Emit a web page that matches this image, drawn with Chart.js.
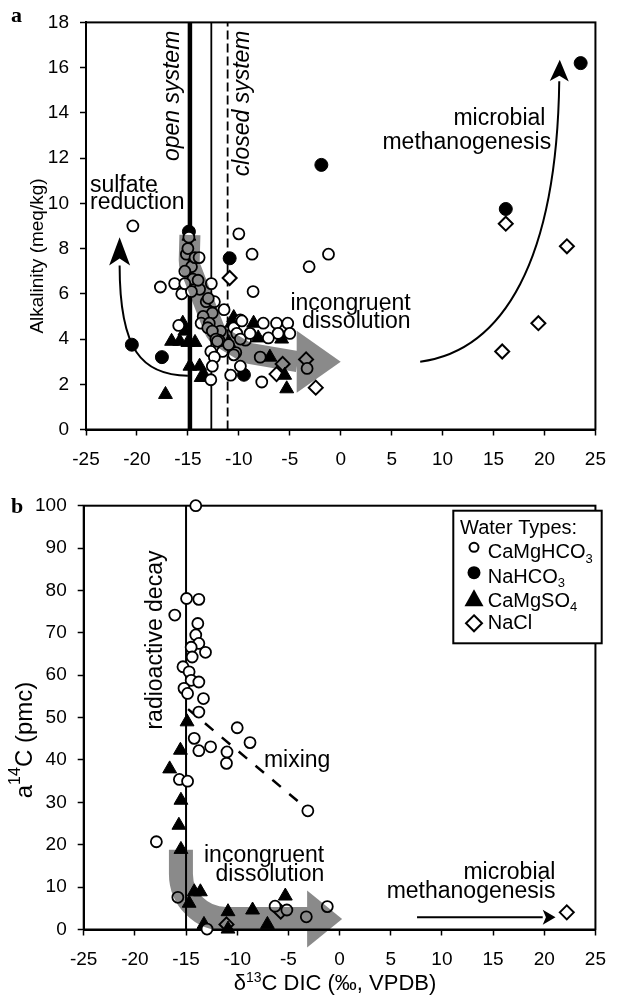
<!DOCTYPE html>
<html lang="en">
<head>
<meta charset="UTF-8">
<title>Alkalinity and a14C vs d13C DIC</title>
<script src="https://cdn.jsdelivr.net/npm/chart.js"></script>
<style>
    body { margin: 0; background: #fff; }
    #wrap { position: relative; width: 619px; height: 1001px; }
    canvas { position: absolute; left: 0; }
    #chartA { top: 0; }
    #chartB { top: 478px; }
</style>
</head>
<body>
<div id="wrap">
    <canvas id="chartA" width="619" height="478"></canvas>
    <canvas id="chartB" width="619" height="523"></canvas>
</div>
<script>
    // tick values
    var xTicks = [-25, -20, -15, -10, -5, 0, 5, 10, 15, 20, 25];
    var alkTicks = [0, 2, 4, 6, 8, 10, 12, 14, 16, 18];
    var pmcTicks = [0, 10, 20, 30, 40, 50, 60, 70, 80, 90, 100];

    // panel a: [d13C DIC, alkalinity meq/kg]
    var alkCaMgHCO3 = [
        [-20.4, 9.0], [-10.0, 8.65], [-8.7, 7.75], [-3.1, 7.2], [-1.2, 7.75], [-8.6, 6.1], [-17.7, 6.3], [-16.3, 6.45],
        [-15.6, 6.0], [-15.9, 4.6], [-15.15, 7.75], [-15.0, 8.0], [-14.65, 7.2], [-14.5, 6.65], [-13.85, 6.2],
        [-13.2, 5.65], [-12.6, 5.15], [-11.8, 4.35], [-11.95, 3.95], [-9.35, 3.95], [-7.9, 3.2], [-14.9, 8.5],
        [-14.3, 7.6], [-13.9, 7.6], [-15.3, 7.0], [-15.3, 6.45], [-14.65, 6.1], [-12.7, 6.45], [-12.4, 5.65],
        [-11.45, 5.3], [-13.5, 5.0], [-13.7, 4.7], [-12.9, 4.7], [-13.05, 4.5], [-12.6, 4.35], [-12.25, 4.0],
        [-12.1, 3.9], [-11.6, 3.45], [-12.75, 3.45], [-12.4, 3.2], [-12.6, 2.8], [-12.75, 2.2], [-10.8, 2.4],
        [-10.3, 3.4], [-10.5, 3.3], [-11.0, 3.75], [-10.5, 4.5], [-9.85, 4.85], [-9.7, 4.8], [-10.2, 4.25],
        [-9.85, 4.0], [-7.6, 4.7], [-6.3, 4.7], [-5.2, 4.7], [-5.0, 4.25], [-6.15, 4.25], [-7.1, 4.05],
        [-8.9, 4.25], [-7.75, 2.1], [-9.85, 2.8], [-3.3, 2.7], [-13.0, 5.8], [-14.0, 6.6]
    ];
    var alkNaHCO3 = [
        [23.55, 16.2], [-1.9, 11.7], [16.2, 9.75], [-10.9, 7.57], [-20.5, 3.75], [-17.55, 3.2], [-14.9, 8.75], [-9.5, 2.42]
    ];
    var alkCaMgSO4 = [
        [-17.2, 1.55], [-14.9, 8.55], [-15.5, 4.7], [-15.3, 4.35], [-16.6, 3.9], [-15.8, 3.9], [-15.0, 3.85],
        [-14.3, 3.85], [-14.8, 2.8], [-13.85, 2.8], [-13.4, 2.4], [-13.7, 2.3], [-10.5, 4.95], [-8.55, 4.7],
        [-8.1, 4.05], [-5.8, 4.0], [-6.95, 3.2], [-5.5, 2.4], [-5.3, 1.8], [-11.0, 3.85], [-10.7, 4.7]
    ];
    var alkNaCl = [
        [-10.9, 6.7], [-5.7, 2.9], [-6.3, 2.45], [-3.4, 3.1], [-2.45, 1.85], [16.2, 9.1], [22.2, 8.1], [19.4, 4.7], [15.85, 3.45]
    ];
    // carbonate system lines (d13C)
    var openSystemX = -14.8;
    var midSystemX = -12.7;
    var closedSystemX = -11.1;

    // panel b: [d13C DIC, a14C pmc]
    var pmcCaMgHCO3 = [
        [-14.05, 100], [-14.95, 78.1], [-13.75, 77.9], [-16.1, 74.2], [-13.85, 72.2], [-14.05, 69.5], [-13.75, 67.5],
        [-14.5, 66.6], [-13.1, 65.4], [-14.4, 64.3], [-15.3, 62.0], [-14.7, 60.8], [-14.5, 58.8], [-13.75, 58.4],
        [-15.2, 56.9], [-14.85, 55.7], [-13.3, 54.5], [-13.75, 51.3], [-10.0, 47.6], [-8.75, 44.1], [-14.2, 45.1],
        [-13.75, 42.2], [-12.6, 43.1], [-11.0, 41.9], [-11.05, 39.2], [-15.65, 35.4], [-14.85, 35.0], [-3.1, 28.0],
        [-17.9, 20.7], [-15.8, 7.6], [-12.95, 0.1], [-6.3, 5.5], [-5.15, 4.6], [-3.25, 3.0], [-1.2, 5.4]
    ];
    var pmcNaHCO3 = [];
    var pmcCaMgSO4 = [
        [-14.9, 49.0], [-15.55, 42.3], [-16.6, 37.9], [-15.5, 30.5], [-15.7, 24.6], [-15.5, 18.9], [-14.2, 8.9],
        [-13.6, 8.9], [-14.7, 6.2], [-13.25, 1.2], [-10.9, 4.2], [-10.9, 0.1], [-8.5, 4.6], [-7.05, 1.2], [-5.3, 7.9]
    ];
    var pmcNaCl = [[-11.05, 1.2], [-5.75, 4.2], [22.2, 4.05]];
    var decayX = -15;
    var mixingLine = [[-14.8, 52], [-3.2, 28.5]];

    var legendTitle = 'Water Types:';
    var legendLabels = ['CaMgHCO_3', 'NaHCO_3', 'CaMgSO_4', 'NaCl'];

    var FONT = '"Liberation Sans", Arial, sans-serif';
    Chart.defaults.font.family = FONT;
    Chart.defaults.color = '#000';

    function toPx(chart, p) {
        return [chart.scales.x.getPixelForValue(p[0]), chart.scales.y.getPixelForValue(p[1])];
    }

    function pointsOf(arr) {
        return arr.map(function (p) { return { x: p[0], y: p[1] }; });
    }

    function markers(label, arr, style, fill, radius, bw) {
        return {
            label: label, data: pointsOf(arr), pointStyle: style, pointRadius: radius,
            pointBackgroundColor: fill, pointBorderColor: '#000', pointBorderWidth: bw,
            showLine: false, clip: false, order: 1
        };
    }

    function refLine(arr, width, dash) {
        return {
            label: '', data: pointsOf(arr), showLine: true, borderColor: '#000', borderWidth: width,
            borderDash: dash || [], pointRadius: 0, fill: false, clip: false, order: 5
        };
    }

    function axis(min, max, ticks, size, pad, fit) {
        return {
            type: 'linear', min: min, max: max,
            afterBuildTicks: function (s) { s.ticks = ticks.map(function (v) { return { value: v }; }); },
            afterFit: fit,
            grid: { display: true, drawOnChartArea: false, drawTicks: true, tickLength: 6, tickWidth: 1.5, tickColor: '#000', color: '#000' },
            border: { display: true, color: '#000', width: 2 },
            ticks: { font: { size: size }, color: '#000', padding: pad, maxRotation: 0, autoSkip: false }
        };
    }

    // text with ^superscript and _subscript digit runs
    function richParts(text) {
        var parts = [], re = /([\^_])(\d+)|([^\^_]+)/g, m;
        while ((m = re.exec(text))) {
            if (m[3]) parts.push({ t: m[3], k: 0 });
            else parts.push({ t: m[2], k: m[1] === '^' ? 1 : -1 });
        }
        return parts;
    }

    function richWidth(ctx, parts, size, style) {
        var w = 0;
        parts.forEach(function (p) {
            ctx.font = (style || '') + ' ' + (p.k ? Math.round(size * 0.65) : size) + 'px ' + FONT;
            w += ctx.measureText(p.t).width;
        });
        return w;
    }

    function drawRich(ctx, text, x, y, size, align, style) {
        var parts = richParts(text);
        var w = richWidth(ctx, parts, size, style);
        if (align === 'center') x -= w / 2;
        else if (align === 'right') x -= w;
        ctx.textAlign = 'left';
        parts.forEach(function (p) {
            var s = p.k ? Math.round(size * 0.65) : size;
            ctx.font = (style || '') + ' ' + s + 'px ' + FONT;
            var dy = p.k === 1 ? -size * 0.38 : (p.k === -1 ? size * 0.22 : 0);
            ctx.fillText(p.t, x, y + dy);
            x += ctx.measureText(p.t).width;
        });
    }

    function roundedPath(ctx, pts, r) {
        ctx.moveTo(pts[0][0], pts[0][1]);
        for (var i = 1; i < pts.length - 1; i++) {
            ctx.arcTo(pts[i][0], pts[i][1], pts[i + 1][0], pts[i + 1][1], r);
        }
        ctx.lineTo(pts[pts.length - 1][0], pts[pts.length - 1][1]);
    }

    // wide grey process arrow, multiplied over the markers
    function drawBand(chart, b) {
        var pts = b.path.map(function (p) { return toPx(chart, p); });
        var tip = toPx(chart, b.tip);
        pts.push([tip[0] - b.headLen + 1, tip[1]]);
        var off = document.createElement('canvas');
        off.width = chart.width;
        off.height = chart.height;
        var o = off.getContext('2d');
        o.strokeStyle = o.fillStyle = b.color;
        o.lineWidth = b.width;
        o.lineJoin = 'round';
        o.beginPath();
        roundedPath(o, pts, b.radius);
        o.stroke();
        o.beginPath();
        o.moveTo(tip[0], tip[1]);
        o.lineTo(tip[0] - b.headLen, tip[1] - b.headWidth / 2);
        o.lineTo(tip[0] - b.headLen, tip[1] + b.headWidth / 2);
        o.closePath();
        o.fill();
        var ctx = chart.ctx;
        ctx.save();
        ctx.globalCompositeOperation = 'multiply';
        ctx.drawImage(off, 0, 0);
        ctx.restore();
    }

    // thin black process arrow
    function drawCurve(chart, c) {
        var ctx = chart.ctx;
        var p0 = toPx(chart, c.from), p3 = toPx(chart, c.to), t = toPx(chart, c.tip);
        ctx.save();
        ctx.strokeStyle = ctx.fillStyle = '#000';
        ctx.lineWidth = c.width;
        ctx.beginPath();
        ctx.moveTo(p0[0], p0[1]);
        if (c.c1) {
            var p1 = toPx(chart, c.c1), p2 = toPx(chart, c.c2);
            ctx.bezierCurveTo(p1[0], p1[1], p2[0], p2[1], p3[0], p3[1]);
        } else {
            ctx.lineTo(p3[0], p3[1]);
        }
        ctx.stroke();
        var dx = t[0] - p3[0], dy = t[1] - p3[1], len = Math.hypot(dx, dy);
        var ux = dx / len, uy = dy / len, hw = c.headWidth / 2;
        ctx.beginPath();
        ctx.moveTo(t[0], t[1]);
        ctx.lineTo(p3[0] - uy * hw, p3[1] + ux * hw);
        ctx.lineTo(p3[0] + ux * len * 0.25, p3[1] + uy * len * 0.25);
        ctx.lineTo(p3[0] + uy * hw, p3[1] - ux * hw);
        ctx.closePath();
        ctx.fill();
        ctx.restore();
    }

    function drawNote(chart, n) {
        var ctx = chart.ctx, p = toPx(chart, [n.x, n.y]);
        ctx.save();
        ctx.fillStyle = '#000';
        ctx.font = (n.italic ? 'italic ' : '') + n.size + 'px ' + FONT;
        if (n.rot) {
            ctx.translate(p[0], p[1]);
            ctx.rotate(-Math.PI / 2);
            ctx.textAlign = 'center';
            ctx.textBaseline = 'middle';
            ctx.fillText(n.t, 0, 0);
        } else {
            ctx.textAlign = n.align;
            ctx.textBaseline = 'alphabetic';
            ctx.fillText(n.t, p[0], p[1]);
        }
        ctx.restore();
    }

    function frame() {
        return {
            id: 'frame',
            beforeDatasetsDraw: function (chart) {
                var a = chart.chartArea, ctx = chart.ctx;
                ctx.save();
                ctx.strokeStyle = '#000';
                ctx.lineWidth = 2;
                ctx.strokeRect(a.left, a.top, a.right - a.left, a.bottom - a.top);
                ctx.restore();
            }
        };
    }

    function notes(cfg) {
        return {
            id: 'notes',
            afterDatasetsDraw: function (chart) {
                (cfg.bands || []).forEach(function (b) { drawBand(chart, b); });
                (cfg.curves || []).forEach(function (c) { drawCurve(chart, c); });
                (cfg.texts || []).forEach(function (t) { drawNote(chart, t); });
                if (cfg.extra) cfg.extra(chart);
            }
        };
    }

    function legendMark(ctx, style, x, y) {
        ctx.save();
        ctx.strokeStyle = '#000';
        ctx.fillStyle = '#000';
        ctx.lineWidth = 2;
        ctx.beginPath();
        if (style === 'open') {
            ctx.arc(x, y, 4.5, 0, Math.PI * 2);
            ctx.fillStyle = '#fff'; ctx.fill(); ctx.stroke();
        } else if (style === 'dot') {
            ctx.arc(x, y, 6.5, 0, Math.PI * 2);
            ctx.fill();
        } else if (style === 'tri') {
            ctx.moveTo(x, y - 10); ctx.lineTo(x + 9.5, y + 7); ctx.lineTo(x - 9.5, y + 7); ctx.closePath();
            ctx.fill();
        } else {
            ctx.moveTo(x, y - 8); ctx.lineTo(x + 8, y); ctx.lineTo(x, y + 8); ctx.lineTo(x - 8, y); ctx.closePath();
            ctx.fillStyle = '#fff'; ctx.fill(); ctx.stroke();
        }
        ctx.restore();
    }

    // ---------- panel a ----------
    new Chart(document.getElementById('chartA'), {
        type: 'scatter',
        data: {
            datasets: [
                markers('CaMgHCO3', alkCaMgHCO3, 'circle', '#fff', 5.5, 1.8),
                markers('NaHCO3', alkNaHCO3, 'circle', '#000', 6.5, 1),
                markers('CaMgSO4', alkCaMgSO4, 'triangle', '#000', 8, 1),
                markers('NaCl', alkNaCl, 'rectRot', '#fff', 7, 2),
                refLine([[openSystemX, 0], [openSystemX, 18]], 4.5),
                refLine([[midSystemX, 0], [midSystemX, 18]], 1.8),
                refLine([[closedSystemX, 0], [closedSystemX, 18]], 1.8, [9, 4])
            ]
        },
        options: {
            responsive: false,
            animation: false,
            events: [],
            layout: { padding: { left: 0, right: 14, top: 17, bottom: 0 } },
            plugins: { legend: { display: false }, tooltip: { enabled: false } },
            scales: {
                x: axis(-25, 25, xTicks, 19, 13, function (s) { s.height = 48.5; }),
                y: axis(0, 18, alkTicks, 19, 11, function (s) { s.width = 86; })
            }
        },
        plugins: [frame(), notes({
            bands: [{
                path: [[-14.8, 8.6], [-14.88, 7.3], [-12.2, 4.2], [-9.2, 3.38]],
                tip: [0, 3.0], headLen: 44, headWidth: 62, width: 21, radius: 20, color: '#8a8a8a'
            }],
            curves: [
                { from: [-15, 2.38], c1: [-19.5, 2.4], c2: [-21.7, 3.5], to: [-21.7, 7.25], tip: [-21.7, 8.5], width: 2, headWidth: 21 },
                { from: [7.8, 3.0], c1: [16, 3.5], c2: [21.2, 7.5], to: [21.45, 15.4], tip: [21.5, 16.35], width: 2, headWidth: 19 }
            ],
            texts: [
                { t: 'open system', x: -16.52, y: 14.75, rot: true, italic: true, size: 23 },
                { t: 'closed system', x: -9.63, y: 14.42, rot: true, italic: true, size: 23 },
                { t: 'sulfate', x: -24.61, y: 10.52, align: 'left', size: 23 },
                { t: 'reduction', x: -24.61, y: 9.73, align: 'left', size: 23 },
                { t: 'microbial', x: 20.09, y: 13.47, align: 'right', size: 23 },
                { t: 'methanogenesis', x: 20.66, y: 12.41, align: 'right', size: 23 },
                { t: 'incongruent', x: 6.86, y: 5.30, align: 'right', size: 23 },
                { t: 'dissolution', x: 6.86, y: 4.47, align: 'right', size: 23 }
            ],
            extra: function (chart) {
                var ctx = chart.ctx;
                ctx.save();
                ctx.fillStyle = '#000';
                ctx.font = 'bold 22px "Liberation Serif", "Times New Roman", serif';
                ctx.textAlign = 'left';
                ctx.fillText('a', 11, 22);
                ctx.translate(37.5, 256);
                ctx.rotate(-Math.PI / 2);
                ctx.textBaseline = 'middle';
                drawRich(ctx, 'Alkalinity (meq/kg)', 0, 0, 19, 'center');
                ctx.restore();
            }
        })]
    });

    // ---------- panel b ----------
    new Chart(document.getElementById('chartB'), {
        type: 'scatter',
        data: {
            datasets: [
                markers('CaMgHCO3', pmcCaMgHCO3, 'circle', '#fff', 5.5, 1.8),
                markers('NaHCO3', pmcNaHCO3, 'circle', '#000', 6.5, 1),
                markers('CaMgSO4', pmcCaMgSO4, 'triangle', '#000', 8, 1),
                markers('NaCl', pmcNaCl, 'rectRot', '#fff', 7, 2),
                refLine([[decayX, 0], [decayX, 100]], 2),
                refLine(mixingLine, 2.5, [11, 11])
            ]
        },
        options: {
            responsive: false,
            animation: false,
            events: [],
            layout: { padding: { left: 0, right: 12, top: 27.7, bottom: 0 } },
            plugins: { legend: { display: false }, tooltip: { enabled: false } },
            scales: {
                x: axis(-25, 25, xTicks, 19, 13, function (s) { s.height = 71.5; }),
                y: axis(0, 100, pmcTicks, 19, 11, function (s) { s.width = 83.7; })
            }
        },
        plugins: [frame(), notes({
            bands: [{
                path: [[-15.5, 18.8], [-15.5, 2.5]],
                tip: [0.25, 2.5], headLen: 35, headWidth: 57, width: 24, radius: 45, color: '#8a8a8a'
            }],
            curves: [
                { from: [7.57, 2.9], to: [19.85, 2.9], tip: [21.1, 2.9], width: 2, headWidth: 15 }
            ],
            texts: [
                { t: 'radioactive decay', x: -18.0, y: 68.3, rot: true, size: 23 },
                { t: 'mixing', x: -7.39, y: 38.25, align: 'left', size: 23 },
                { t: 'incongruent', x: -1.5, y: 16.0, align: 'right', size: 23 },
                { t: 'dissolution', x: -1.5, y: 11.5, align: 'right', size: 23 },
                { t: 'microbial', x: 21.09, y: 11.84, align: 'right', size: 23 },
                { t: 'methanogenesis', x: 21.09, y: 7.36, align: 'right', size: 23 }
            ],
            extra: function (chart) {
                var ctx = chart.ctx;
                ctx.save();
                ctx.fillStyle = '#000';
                ctx.font = 'bold 22px "Liberation Serif", "Times New Roman", serif';
                ctx.textAlign = 'left';
                ctx.fillText('b', 11, 35);

                // legend box
                ctx.strokeStyle = '#000';
                ctx.lineWidth = 2;
                ctx.fillStyle = '#fff';
                ctx.fillRect(453.3, 32.7, 148.4, 132.6);
                ctx.strokeRect(453.3, 32.7, 148.4, 132.6);
                ctx.fillStyle = '#000';
                ctx.textBaseline = 'alphabetic';
                drawRich(ctx, legendTitle, 460, 56, 20, 'left');
                var marks = ['open', 'dot', 'tri', 'diamond'];
                var rowBase = [80.3, 104.7, 128.7, 151.3];
                var markY = [69.3, 94.7, 121.3, 145.3];
                legendLabels.forEach(function (lab, i) {
                    legendMark(ctx, marks[i], 474, markY[i]);
                    ctx.fillStyle = '#000';
                    drawRich(ctx, lab, 487.7, rowBase[i], 20, 'left');
                });

                // axis titles
                drawRich(ctx, '\u03b4^13C DIC (\u2030, VPDB)', 335, 512, 22, 'center');
                ctx.translate(25, 262);
                ctx.rotate(-Math.PI / 2);
                ctx.textBaseline = 'middle';
                drawRich(ctx, 'a^14C (pmc)', 0, 0, 24, 'center');
                ctx.restore();
            }
        })]
    });
</script>
</body>
</html>
